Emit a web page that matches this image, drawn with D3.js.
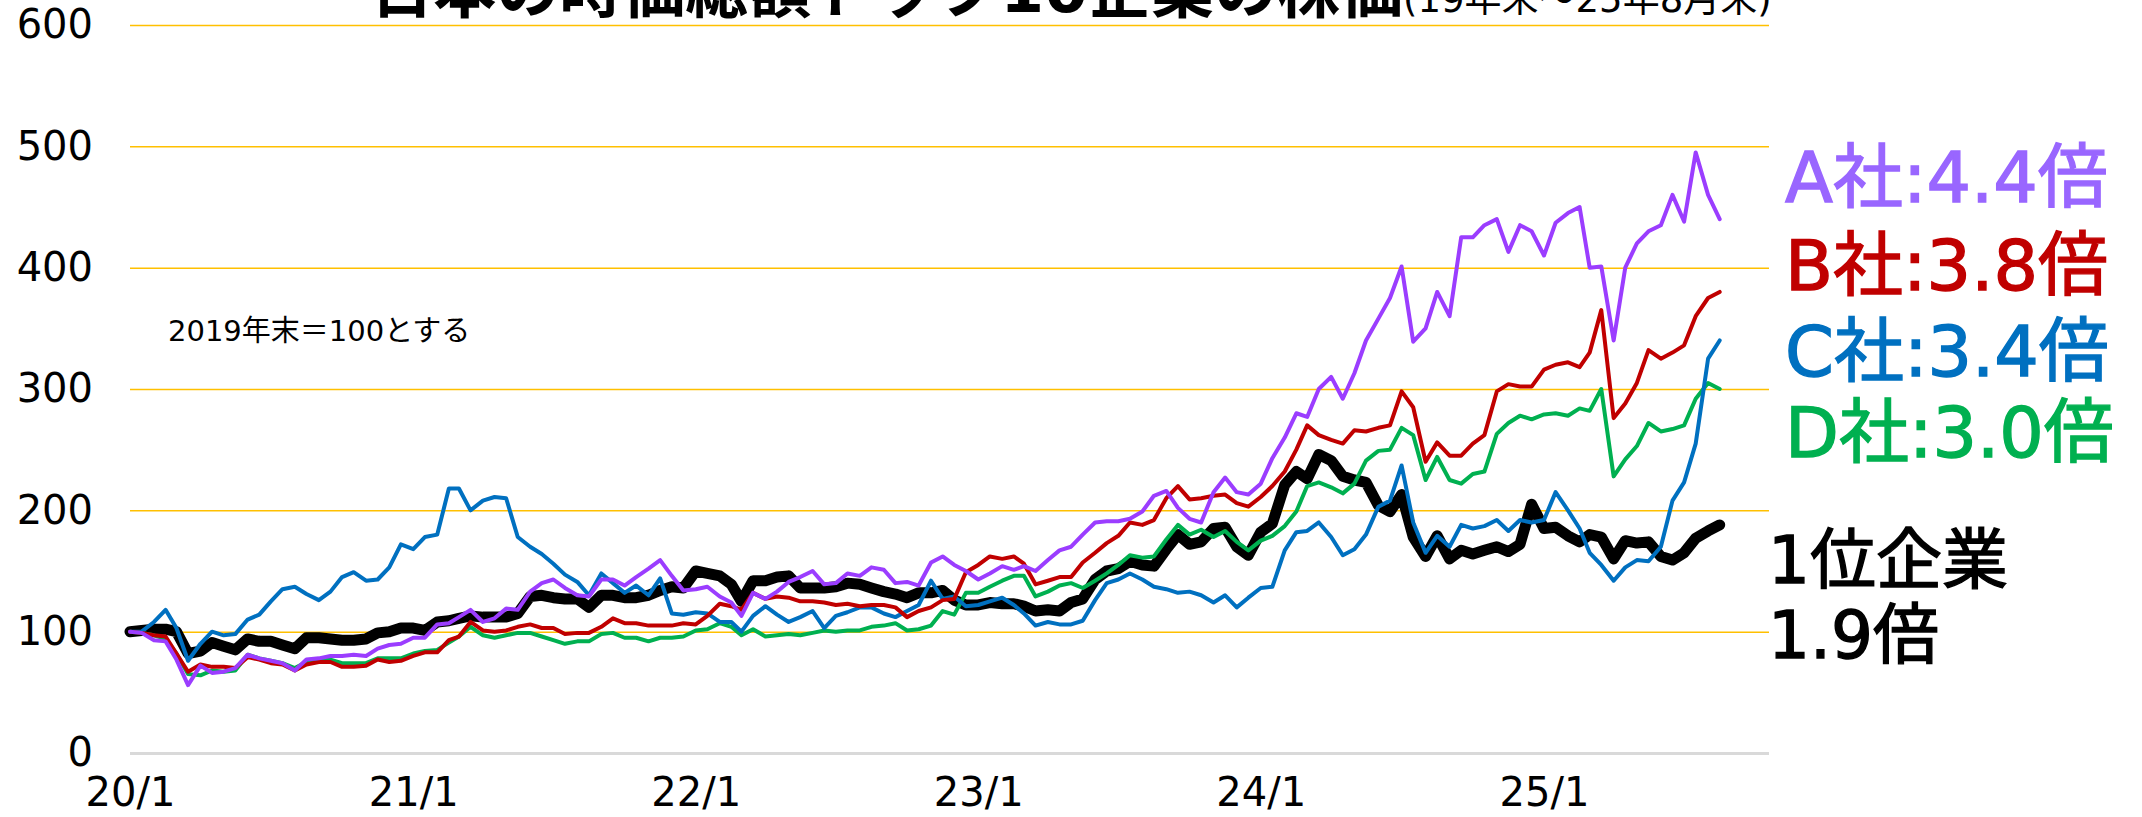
<!DOCTYPE html>
<html>
<head>
<meta charset="utf-8">
<script src="https://cdn.jsdelivr.net/npm/d3@7"></script>
<style>
  body { margin: 0; background: #fff; }
  text { font-family: "DejaVu Sans", "Noto Sans CJK JP", sans-serif; }
</style>
</head>
<body>
<script>
const width = 2142
const height = 817

// half-month points, 2019 year end = 100
const seriesA = [
  100, 99, 93, 92, 77, 56, 72, 66, 67, 70, 81, 78, 76, 74, 68, 77, 78, 80, 80, 81, 80, 86, 89, 90,
  95, 95, 106, 107, 112, 118, 108, 111, 119, 118, 133, 140, 143, 136, 130, 129, 143, 143, 138, 145, 152, 159, 146, 134,
  135, 137, 129, 124, 113, 132, 127, 133, 141, 145, 150, 139, 140, 148, 146, 153, 151, 140, 141, 138, 157, 162, 155, 150,
  143, 148, 154, 151, 154, 150, 159, 167, 170, 180, 190, 191, 191, 193, 199, 212, 216, 202, 193, 190, 215, 227, 215,
  213, 222, 243, 260, 280, 277, 300, 310, 292, 313, 340, 358, 375, 401, 339, 350, 380, 360, 425, 425, 435, 440, 413,
  435, 430, 410, 437, 445, 450, 400, 401, 340, 400, 420, 430, 435, 460, 438, 495, 460, 440
]
const seriesB = [
  100, 99, 97, 96, 82, 67, 73, 71, 71, 70, 79, 77, 74, 73, 68, 73, 75, 75, 71, 71, 72, 77, 75, 76,
  80, 83, 83, 93, 96, 108, 101, 100, 101, 104, 106, 103, 103, 98, 99, 99, 104, 111, 107, 107, 105, 105, 105, 107,
  106, 113, 123, 121, 118, 132, 127, 129, 128, 125, 125, 124, 122, 123, 121, 122, 122, 120, 112, 117, 120, 126, 127, 149,
  155, 162, 160, 162, 156, 139, 142, 145, 145, 157, 165, 173, 179, 190, 188, 192, 210, 220, 209, 210, 212, 213, 206,
  203, 211, 220, 232, 250, 270, 262, 258, 255, 266, 265, 268, 270, 298, 285, 240, 256, 245, 245, 255, 262, 298, 304,
  302, 302, 316, 320, 322, 318, 330, 365, 276, 288, 305, 332, 325, 330, 336, 360, 375, 380
]
const seriesC = [
  100, 100, 108, 118, 103, 76, 90, 100, 97, 98, 110, 114, 125, 135, 137, 131, 126, 133, 145, 149, 142, 143, 153, 172,
  168, 178, 180, 218, 218, 200, 208, 211, 210, 178, 170, 164, 156, 147, 141, 130, 148, 140, 132, 138, 130, 144, 115, 114,
  116, 115, 108, 108, 100, 113, 121, 114, 108, 112, 117, 103, 113, 116, 120, 120, 115, 112, 117, 122, 142, 127, 129, 121,
  122, 125, 128, 122, 115, 105, 108, 106, 106, 109, 126, 140, 143, 148, 143, 137, 135, 132, 133, 130, 124, 130, 120,
  128, 136, 137, 167, 182, 183, 190, 178, 163, 168, 180, 203, 208, 237, 190, 165, 179, 170, 188, 185, 187, 192, 183,
  192, 190, 192, 215, 200, 185, 165, 155, 142, 153, 159, 158, 170, 208, 223, 255, 325, 340
]
const seriesD = [
  100, 99, 97, 94, 82, 65, 64, 68, 67, 68, 81, 78, 76, 74, 70, 75, 77, 77, 74, 74, 74, 78, 78, 78,
  82, 84, 85, 91, 96, 104, 97, 95, 97, 99, 99, 96, 93, 90, 92, 92, 98, 99, 95, 95, 92, 95, 95, 96,
  101, 102, 107, 104, 97, 102, 96, 97, 98, 97, 99, 101, 100, 101, 101, 104, 105, 107, 101, 102, 105, 117, 114, 132,
  132, 137, 142, 146, 146, 129, 133, 138, 140, 136, 142, 148, 155, 163, 161, 162, 176, 188, 180, 184, 178, 183, 174,
  167, 175, 179, 187, 199, 220, 223, 219, 214, 222, 241, 249, 250, 268, 262, 225, 244, 225, 222, 230, 232, 263, 272,
  278, 275, 279, 280, 278, 284, 282, 300, 228, 242, 253, 272, 265, 267, 270, 292, 305, 300
]
const seriesTop = [
  100, 101, 102, 102, 100, 82, 84, 91, 88, 85, 94, 92, 92, 89, 86, 95, 95, 94, 93, 93, 94, 99, 100, 103,
  103, 101, 108, 109, 111, 113, 112, 112, 112, 115, 129, 130, 128, 127, 127, 120, 130, 130, 128, 128, 130, 134, 137, 136,
  150, 148, 146, 139, 125, 142, 142, 145, 146, 136, 136, 136, 137, 140, 139, 136, 133, 131, 128, 132, 132, 134, 126, 122,
  122, 124, 123, 123, 121, 117, 118, 117, 124, 127, 143, 150, 152, 158, 155, 154, 168, 180, 172, 174, 185, 186, 170,
  163, 182, 189, 221, 232, 226, 246, 241, 228, 225, 223, 204, 199, 213, 178, 162, 179, 160, 167, 164, 167, 170, 166,
  172, 205, 185, 186, 179, 174, 180, 178, 160, 175, 173, 174, 162, 159, 165, 177, 183, 188
]

const yTicks = [0, 100, 200, 300, 400, 500, 600]
const xTickYears = [2020, 2021, 2022, 2023, 2024, 2025]
const xTickLabels = ["20/1", "21/1", "22/1", "23/1", "24/1", "25/1"]

const titleMain = "日本の時価総額トップ10企業の株価"
const titleSub = "(19年末〜25年8月末)"
const note = "2019年末＝100とする"
const endLabels = ["A社:4.4倍", "B社:3.8倍", "C社:3.4倍", "D社:3.0倍"]
const topLabels = ["1位企業", "1.9倍"]

const dates = d3.range(seriesA.length).map((i) => new Date(2020, Math.floor(i / 2), i % 2 ? 16 : 1))

const left = 130
const plotRight = 1769

const x = d3
  .scaleTime()
  .domain([new Date(2020, 0, 1), new Date(2025, 0, 1)])
  .range([left, 1544])

const y = d3.scaleLinear().domain([0, 600]).range([753, 25])

const svg = d3
  .select("body")
  .append("svg")
  .attr("width", width)
  .attr("height", height)

// y grid + labels
const yAxis = svg
  .append("g")
  .attr("transform", `translate(${left},0)`)
  .call(
    d3.axisLeft(y)
      .tickValues(yTicks)
      .tickSize(-(plotRight - left))
      .tickPadding(37)
  )
yAxis.select(".domain").remove()
yAxis
  .selectAll(".tick line")
  .attr("stroke", (d) => (d === 0 ? "#d9d9d9" : "#ffc000"))
  .attr("stroke-width", (d) => (d === 0 ? 3 : 1.5))
yAxis
  .selectAll(".tick text")
  .attr("fill", "#000")
  .style("font-size", "40px")

// x labels
const xAxis = svg
  .append("g")
  .attr("transform", `translate(0,${y(0)})`)
  .call(
    d3.axisBottom(x)
      .tickValues(xTickYears.map((yr) => new Date(yr, 0, 1)))
      .tickFormat((d, i) => xTickLabels[i])
      .tickSize(0)
      .tickPadding(25)
  )
xAxis.select(".domain").remove()
xAxis
  .selectAll(".tick text")
  .attr("fill", "#000")
  .style("font-size", "40px")

const line = d3
  .line()
  .x((d, i) => x(dates[i]))
  .y((d) => y(d))

const lines = [
  { values: seriesTop, color: "#000000", w: 11 },
  { values: seriesD, color: "#00b050", w: 4 },
  { values: seriesC, color: "#0070c0", w: 4 },
  { values: seriesB, color: "#c00000", w: 4 },
  { values: seriesA, color: "#9b3dff", w: 4 },
]

svg
  .append("g")
  .selectAll("path")
  .data(lines)
  .enter()
  .append("path")
  .attr("d", (d) => line(d.values))
  .attr("fill", "none")
  .attr("stroke", (d) => d.color)
  .attr("stroke-width", (d) => d.w)
  .attr("stroke-linejoin", "round")
  .attr("stroke-linecap", "round")

// title, clipped by the top of the page
const title = svg
  .append("text")
  .attr("x", 1071)
  .attr("y", 12)
  .attr("text-anchor", "middle")
title.append("tspan").style("font-size", "63px").style("font-weight", "bold").text(titleMain)
title.append("tspan").style("font-size", "37px").text(titleSub)

svg
  .append("text")
  .attr("x", 168)
  .attr("y", 341)
  .style("font-size", "29px")
  .text(note)

const labelColors = ["#9966ff", "#c00000", "#0070c0", "#00b050"]
const labelBaselines = [202, 290, 376, 457]

svg
  .selectAll(".end-label")
  .data(endLabels)
  .enter()
  .append("text")
  .attr("class", "end-label")
  .attr("x", 1785)
  .attr("y", (d, i) => labelBaselines[i])
  .attr("fill", (d, i) => labelColors[i])
  .attr("stroke", (d, i) => labelColors[i])
  .attr("stroke-width", 1.4)
  .style("font-size", "70px")
  .text((d) => d)

svg
  .selectAll(".top-label")
  .data(topLabels)
  .enter()
  .append("text")
  .attr("class", "top-label")
  .attr("x", 1768)
  .attr("y", (d, i) => [583, 658][i])
  .attr("fill", "#000")
  .attr("stroke", "#000")
  .attr("stroke-width", 1.4)
  .style("font-size", "66px")
  .text((d) => d)
</script>
</body>
</html>
